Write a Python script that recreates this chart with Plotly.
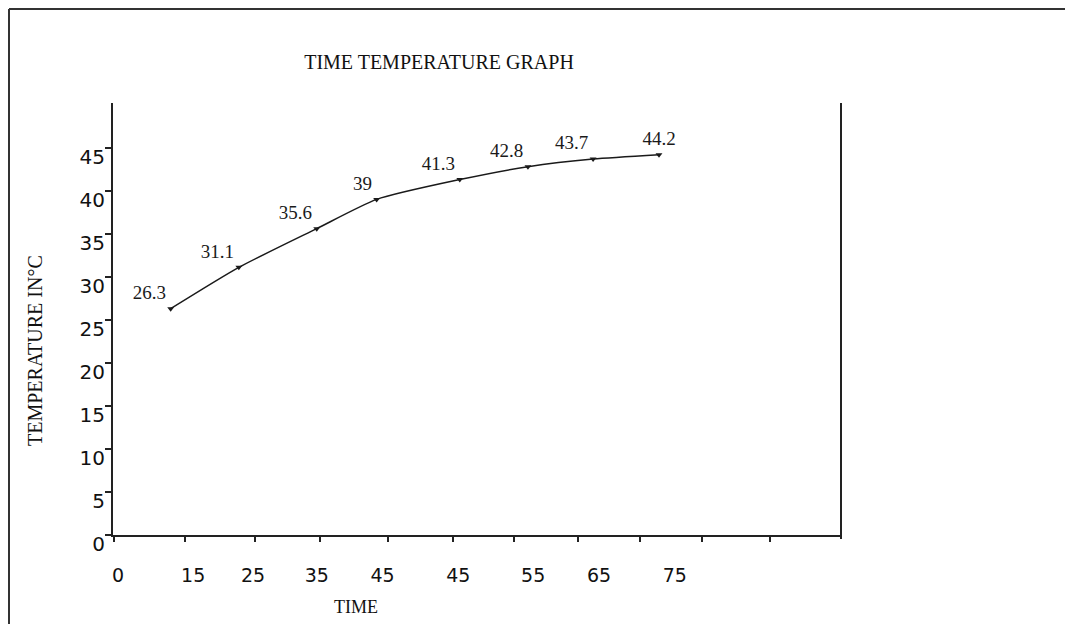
import plotly.graph_objects as go

# ---- data ----
time_pos = [7.7, 16.8, 27.2, 35.2, 46.3, 55.4, 64.1, 72.9]          # x position of readings (axis units)
temperature = [26.3, 31.1, 35.6, 39, 41.3, 42.8, 43.7, 44.2]         # temperature in °C
point_labels = ["26.3", "31.1", "35.6", "39", "41.3", "42.8", "43.7", "44.2"]

x_label_pos = [0.67, 10.7, 18.7, 27.2, 36.0, 46.1, 56.1, 64.9, 75.0]
x_label_text = ["0", "15", "25", "35", "45", "45", "55", "65", "75"]
x_tick_marks = [0.13, 9.6, 19.0, 27.6, 36.7, 45.4, 53.5, 62.1, 70.4, 78.6, 87.7]

y_ticks = [0, 5, 10, 15, 20, 25, 30, 35, 40, 45]

W, H = 1073, 624
OFF = 8  # page body margin offset
L, R, T, B = 113 - OFF, 841 - OFF, 103 - OFF, 535 - OFF

fig = go.Figure()
fig.add_trace(go.Scatter(
    x=time_pos, y=temperature,
    mode="lines+markers+text",
    line=dict(color="#1a1a1a", width=1.5, shape="spline", smoothing=0.6),
    marker=dict(symbol="triangle-down", size=6, color="#1a1a1a"),
    text=point_labels,
    textposition=["top left"] * 7 + ["top center"],
    textfont=dict(family="Liberation Serif", size=19, color="#1a1a1a"),
    cliponaxis=False,
    showlegend=False,
    hoverinfo="x+y",
))

def px_x(p):
    return (p - OFF - L) / (R - L)

def px_y(p):
    return (B - (p - OFF)) / (B - T)

fig.update_layout(
    width=W, height=H,
    margin=dict(l=L, r=W - R, t=T, b=H - B, pad=0),
    paper_bgcolor="white", plot_bgcolor="white",
    title=dict(text="TIME TEMPERATURE GRAPH", x=(439 - OFF) / W, xanchor="center",
               y=1 - (62 - OFF) / H, yanchor="middle",
               font=dict(family="Liberation Serif", size=20, color="#111")),
    xaxis=dict(range=[0, 97.2], showgrid=False, zeroline=False,
               showline=True, linecolor="#222", linewidth=2,
               tickmode="array", tickvals=x_label_pos, ticktext=x_label_text,
               ticks="", ticklabelstandoff=22,
               tickfont=dict(family="DejaVu Sans", size=19, color="#111"),
               minor=dict(tickmode="array", tickvals=x_tick_marks, ticks="outside",
                          ticklen=5, tickwidth=2, tickcolor="#222", showgrid=False),
               fixedrange=True),
    yaxis=dict(range=[0, 50.2], showgrid=False, zeroline=False,
               showline=True, linecolor="#222", linewidth=2,
               tickmode="array", tickvals=y_ticks,
               ticks="outside", ticklen=6, tickwidth=1.5, tickcolor="#222",
               ticklabelshift=9, ticklabelstandoff=-4,
               tickfont=dict(family="DejaVu Sans", size=20, color="#111"),
               fixedrange=True),
    annotations=[
        dict(text="TIME", xref="paper", yref="paper", x=px_x(356), y=px_y(607),
             xanchor="center", yanchor="middle", showarrow=False,
             font=dict(family="Liberation Serif", size=18, color="#111")),
        dict(text="TEMPERATURE IN°C", xref="paper", yref="paper", x=px_x(35), y=px_y(351),
             xanchor="center", yanchor="middle", showarrow=False, textangle=-90,
             font=dict(family="Liberation Serif", size=20, color="#111")),
    ],
    shapes=[
        # right boundary of the plot area
        dict(type="line", xref="paper", yref="paper", x0=1, x1=1, y0=px_y(539), y1=1,
             line=dict(color="#222", width=2)),
        # outer frame (left and top)
        dict(type="line", xref="paper", yref="paper", x0=px_x(9), x1=px_x(9),
             y0=px_y(9), y1=px_y(640), line=dict(color="#333", width=2)),
        dict(type="line", xref="paper", yref="paper", x0=px_x(9), x1=px_x(1090),
             y0=px_y(9), y1=px_y(9), line=dict(color="#333", width=2)),
    ],
)

fig.write_html("out.html")
